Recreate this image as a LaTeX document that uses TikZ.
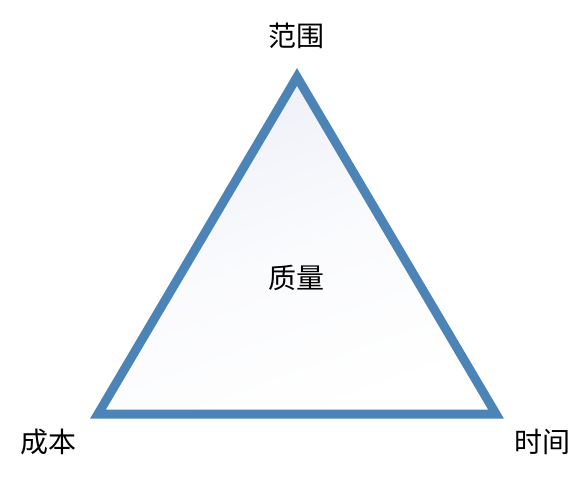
\documentclass[tikz,border=0pt]{standalone}
\usepackage{fontspec}
\newfontfamily\cjk{Noto Sans CJK SC}
\definecolor{tri}{HTML}{4D84B8}
\definecolor{topfill}{HTML}{EEF0F8}
\begin{document}
\begin{tikzpicture}[x=1pt,y=-1pt,
  lbl/.style={font=\cjk\fontsize{28}{28}\selectfont, inner sep=0pt, text=black}]
\useasboundingbox (0,0) rectangle (588,490);
\coordinate (A) at (297,77);
\coordinate (B) at (98,414);
\coordinate (C) at (496,414);
\path[top color=topfill, bottom color=white, middle color=white!70!topfill, shading angle=20] (A) -- (B) -- (C) -- cycle;
\draw[tri, line width=9pt, line join=miter] (A) -- (B) -- (C) -- cycle;
\node[lbl] (fw) at (296,36) {范围};
\node[lbl] (zl) at (296,278) {质量};
\node[lbl] (cb) at (48,442) {成本};
\node[lbl] (sj) at (542,442) {时间};
\end{tikzpicture}
\end{document}
